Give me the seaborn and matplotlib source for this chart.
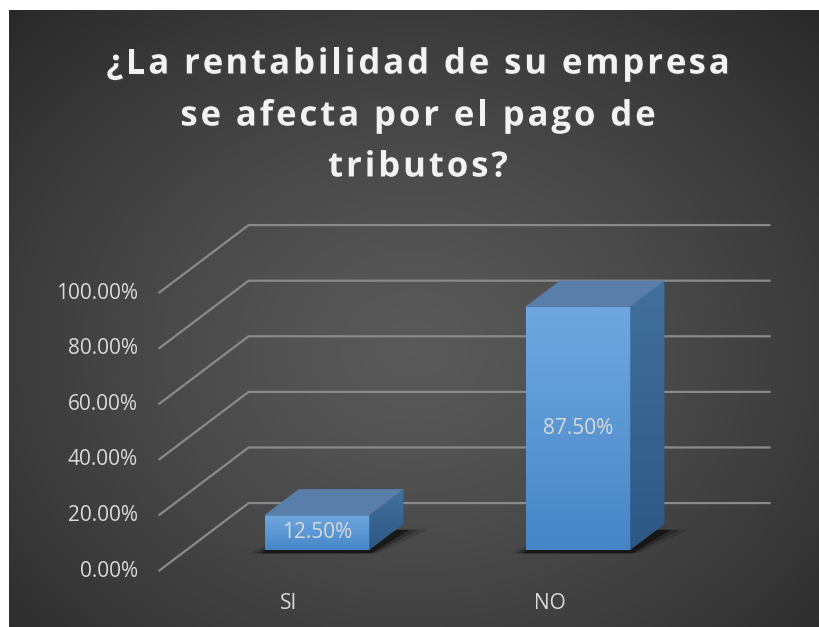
import numpy as np
import matplotlib
matplotlib.use("Agg")
import matplotlib.pyplot as plt
import matplotlib.patheffects as pe
import seaborn as sns
from matplotlib.patches import Polygon
from matplotlib.font_manager import FontProperties
from matplotlib.textpath import TextToPath

# data
categories = ["SI", "NO"]
values = [0.125, 0.875]
ticks = [0.0, 0.2, 0.4, 0.6, 0.8, 1.0]
tick_labels = ["0.00%", "20.00%", "40.00%", "60.00%", "80.00%", "100.00%"]
value_labels = ["12.50%", "87.50%"]
title_lines = ["¿La rentabilidad de su empresa", "se afecta por el pago de", "tributos?"]

W, H = 819, 627
fig = plt.figure(figsize=(W / 100, H / 100), dpi=100)
fig.patch.set_facecolor("white")

# dark radial background
bg = fig.add_axes([9 / W, 0, 1 - 9 / W, 1 - 10 / H])
yy, xx = np.mgrid[0:1:300j, 0:1:400j]
r = np.sqrt(((xx - 0.5) / 0.75) ** 2 + ((yy - 0.55) / 0.8) ** 2)
r = np.clip(r, 0, 1)
shade = 0.35 - (0.35 - 0.15) * r ** 1.3
bg.imshow(np.dstack([shade, shade, shade]), aspect="auto", extent=[0, 1, 0, 1])
bg.axis("off")

ax = fig.add_axes([0, 0, 1, 1])
ax.patch.set_alpha(0)

# oblique projection: full depth vector and bar placement in depth
DX, DY = 90 / 261, 68 / 278
f0, fb = 0.31, 0.38
back = 1 - f0
xl, xr = -0.5, len(categories) - 0.5

sns.set_style("dark")
sns.barplot(x=categories, y=values, width=0.40, color="#5b9bd5", ax=ax,
            saturation=1, zorder=5)

ax.set_xlim(-317 / 261, (W - 317) / 261)
ax.set_ylim(-(H - 550) / 278, 550 / 278)
ax.axis("off")

lbl_font = dict(color="#d9d9d9", fontsize=15, family="Open Sans")
grid_c = "#8a8a8a"
for t, lab in zip(ticks, tick_labels):
    fx, fy = xl - f0 * DX, t - f0 * DY
    bx, by = xl + back * DX, t + back * DY
    ax.plot([fx, bx, xr + back * DX], [fy, by, by], color=grid_c, lw=1.6,
            zorder=1, solid_capstyle="butt")
    ax.annotate(lab, (fx, fy), xytext=(-15, 0), textcoords="offset points",
                ha="right", va="center", **lbl_font)

front_grad = np.linspace(0, 1, 100)[:, None]
cm = matplotlib.colors.LinearSegmentedColormap.from_list("f", ["#4686c7", "#6fa8e0"])
cm2 = matplotlib.colors.LinearSegmentedColormap.from_list("s", ["#2d5885", "#42709c"])
for i, (bar, lab) in enumerate(zip(ax.patches, value_labels)):
    x0 = bar.get_x()
    x1 = x0 + bar.get_width()
    v = bar.get_height()
    # shadow on floor
    for k, a in zip([0.06, 0.035, 0.015], [0.15, 0.25, 0.45]):
        ax.add_patch(Polygon([(x0 - k, -0.012), (x1 + k * 0.5, -0.012),
                              (x1 + fb * DX + k * 1.6, fb * DY - 0.02),
                              (x0 + fb * DX, fb * DY - 0.02)],
                             closed=True, color="black", alpha=a, lw=0, zorder=2))
    # front face gradient
    im = ax.imshow(front_grad, cmap=cm, origin="lower", aspect="auto",
                   extent=[x0, x1, 0, v], zorder=6)
    im.set_clip_path(bar)
    bar.set_facecolor("none")
    bar.set_edgecolor("none")
    # top face
    ax.add_patch(Polygon([(x0, v), (x1, v), (x1 + fb * DX, v + fb * DY),
                          (x0 + fb * DX, v + fb * DY)], closed=True,
                         facecolor="#587ea9", edgecolor="#587ea9", lw=0.5, zorder=7))
    # side face
    side = Polygon([(x1, 0), (x1, v), (x1 + fb * DX, v + fb * DY),
                    (x1 + fb * DX, fb * DY)], closed=True, facecolor="none",
                   edgecolor="none", zorder=7)
    ax.add_patch(side)
    ims = ax.imshow(front_grad, cmap=cm2, origin="lower", aspect="auto",
                    extent=[x1, x1 + fb * DX, 0, v + fb * DY], zorder=7)
    ims.set_clip_path(side)
    ax.text(i, v / 2, lab, ha="center", va="center", zorder=9, **lbl_font)
    ax.annotate(categories[i], (i - f0 * DX, -f0 * DY), xytext=(0, -23),
                textcoords="offset points", ha="center", va="center", **lbl_font)

ax.set_xlim(-317 / 261, (W - 317) / 261)
ax.set_ylim(-(H - 550) / 278, 550 / 278)

# title with letter spacing (drawn char by char)
tprop = FontProperties(family="Open Sans", weight="bold", size=25)
t2p = TextToPath()
spacing = 2.9  # px between letters
line_y = [60, 112, 163]
cx = 418
shadow = [pe.withSimplePatchShadow(offset=(1.2, -1.2), alpha=0.5)]
for line, ly in zip(title_lines, line_y):
    widths = [t2p.get_text_width_height_descent(line[:k], tprop, ismath=False)[0] * 100 / 72
              for k in range(len(line) + 1)]
    total = widths[-1] + spacing * (len(line) - 1)
    start = cx - total / 2
    for k, ch in enumerate(line):
        if ch == " ":
            continue
        px = start + widths[k] + spacing * k
        fig.text(px / W, 1 - ly / H, ch, ha="left", va="center_baseline",
                 color="#f2f2f2", fontproperties=tprop, path_effects=shadow)

fig.savefig("out.png", dpi=100, facecolor=fig.get_facecolor())
